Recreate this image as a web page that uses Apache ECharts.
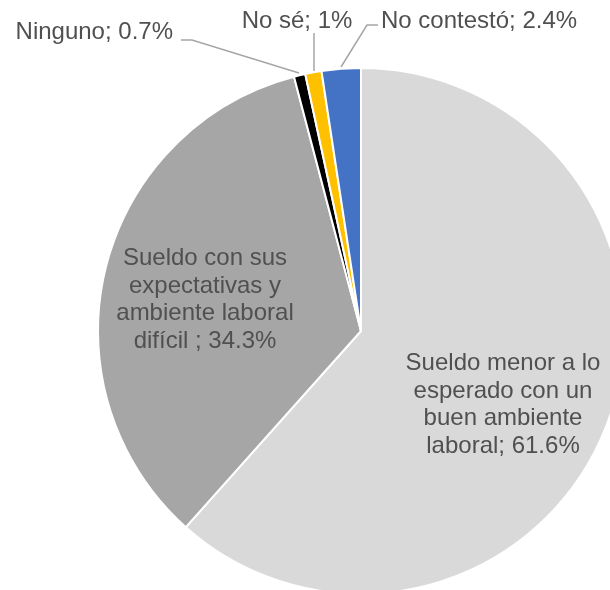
<!DOCTYPE html>
<html>
<head>
<meta charset="utf-8">
<script src="https://cdn.jsdelivr.net/npm/echarts@6/dist/echarts.min.js"></script>
<style>
html,body{margin:0;padding:0;background:#fff;}
#chart{width:610px;height:590px;}
</style>
</head>
<body>
<div id="chart"></div>
<script>
var categories = [
  "Sueldo menor a lo esperado con un buen ambiente laboral",
  "Sueldo con sus expectativas y ambiente laboral difícil ",
  "Ninguno",
  "No sé",
  "No contestó"
];
var labelTexts = [
  "Sueldo menor a lo\nesperado con un\nbuen ambiente\nlaboral",
  "Sueldo con sus\nexpectativas y\nambiente laboral\ndifícil ",
  "Ninguno",
  "No sé",
  "No contestó"
];
var values = [61.6, 34.3, 0.7, 1, 2.4];
var colors = ["#d9d9d9", "#a6a6a6", "#000000", "#ffc000", "#4472c4"];

// label placement (not data)
var labelPlacement = [
  {x: 503, y: 405, align: "center"},
  {x: 205, y: 300, align: "center"},
  {x: 173, y: 32, align: "right", line: [[299, 73], [192, 40], [181, 40]]},
  {x: 297, y: 21, align: "center", line: [[314, 71], [314, 50], [314, 33]]},
  {x: 381, y: 21, align: "left", line: [[341, 67], [367, 25], [378, 25]]}
];

var data = categories.map(function (c, i) {
  return {
    name: c,
    value: values[i],
    itemStyle: {color: colors[i]},
    labelLine: {show: i >= 2}
  };
});

var chart = echarts.init(document.getElementById('chart'), null, {renderer: 'canvas'});
chart.setOption({
  animation: false,
  series: [{
    type: 'pie',
    center: [361, 331],
    radius: 263,
    startAngle: 90,
    clockwise: true,
    avoidLabelOverlap: false,
    data: data,
    itemStyle: {borderColor: '#ffffff', borderWidth: 2},
    label: {
      show: true,
      position: 'outside',
      color: '#505050',
      fontFamily: 'Liberation Sans, Arial, sans-serif',
      fontSize: 24,
      lineHeight: 27.5,
      formatter: function (p) {
        return labelTexts[p.dataIndex] + '; ' + p.value + '%';
      }
    },
    labelLine: {
      show: true,
      lineStyle: {color: '#a6a6a6', width: 1.5}
    },
    labelLayout: function (p) {
      var lp = labelPlacement[p.dataIndex];
      var r = {x: lp.x, y: lp.y, align: lp.align, verticalAlign: 'middle'};
      if (lp.line) r.labelLinePoints = lp.line;
      return r;
    },
    emphasis: {disabled: true}
  }]
});
</script>
</body>
</html>
